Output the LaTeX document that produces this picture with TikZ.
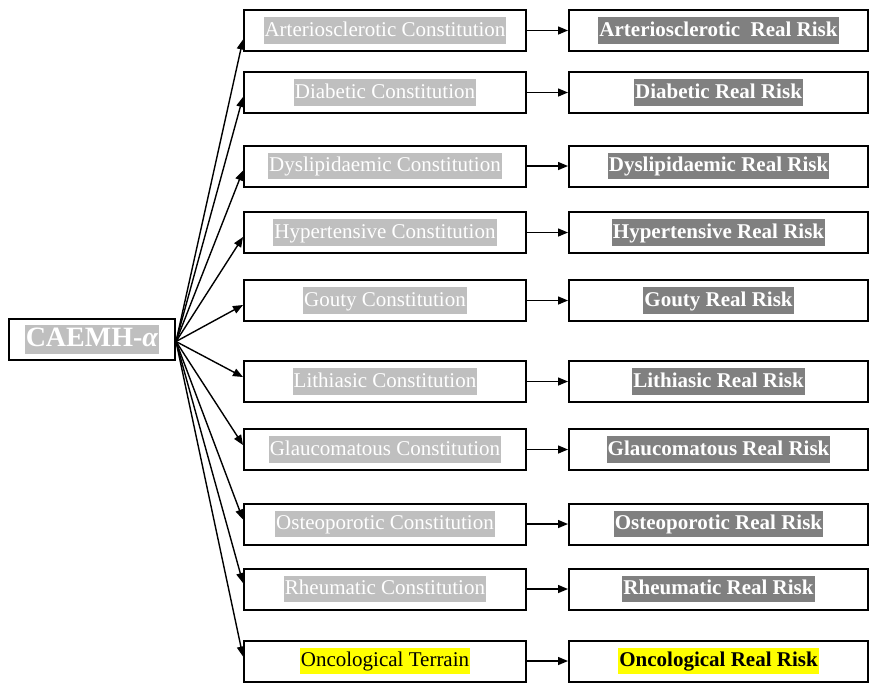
\documentclass[tikz,border=0pt]{standalone}
\usepackage{fontspec}
\setmainfont{Liberation Serif}
\usetikzlibrary{arrows.meta}
\definecolor{hlgray}{RGB}{191,191,191}
\definecolor{hldark}{RGB}{128,128,128}
\definecolor{hlyellow}{RGB}{255,255,0}
\newcommand{\hlbox}[2]{{\setlength{\fboxsep}{0.5pt}\colorbox{#1}{\rule[-0.3em]{0pt}{1.15em}#2}}}

\begin{document}
\begin{tikzpicture}[x=.5pt, y=-.5pt, node distance=166.75pt, every node/.style={font=\fontsize{10.5}{12.6}\selectfont}]
\tikzstyle{cons} = [rectangle, minimum width=141pt, minimum height=20.5pt, inner sep=0pt, text centered, draw=black, line width=1pt]
\tikzstyle{risk} = [cons, minimum width=149.5pt, font=\fontsize{10.5}{12.6}\selectfont\bfseries]
\tikzstyle{arr} = [-{Triangle[length=5pt, width=4pt]}, line width=.7pt]

\useasboundingbox (0,0) rectangle (870,682);

\node (caemh) [cons, minimum width=83pt, font=\fontsize{14}{16}\selectfont\bfseries] at (92,339.5) {{\setlength{\fboxsep}{0.5pt}\colorbox{hlgray}{\rule[-0.22em]{0pt}{0.95em}\color{white}CAEMH-\textit{α}}}};

\node (c1) [cons] at (385,30.5) {\hlbox{hlgray}{\color{white}Arteriosclerotic Constitution}};
\node (c2) [cons] at (385,92.5) {\hlbox{hlgray}{\color{white}Diabetic Constitution}};
\node (c3) [cons] at (385,166) {\hlbox{hlgray}{\color{white}Dyslipidaemic Constitution}};
\node (c4) [cons] at (385,232.5) {\hlbox{hlgray}{\color{white}Hypertensive Constitution}};
\node (c5) [cons] at (385,300.5) {\hlbox{hlgray}{\color{white}Gouty Constitution}};
\node (c6) [cons] at (385,381.5) {\hlbox{hlgray}{\color{white}Lithiasic Constitution}};
\node (c7) [cons] at (385,449.5) {\hlbox{hlgray}{\color{white}Glaucomatous Constitution}};
\node (c8) [cons] at (385,524) {\hlbox{hlgray}{\color{white}Osteoporotic Constitution}};
\node (c9) [cons] at (385,589) {\hlbox{hlgray}{\color{white}Rheumatic Constitution}};
\node (c10) [cons] at (385,661) {\hlbox{hlyellow}{Oncological Terrain}};

\node (r1) [risk, right of=c1] {\hlbox{hldark}{\color{white}Arteriosclerotic\ \ Real Risk}};
\node (r2) [risk, right of=c2] {\hlbox{hldark}{\color{white}Diabetic Real Risk}};
\node (r3) [risk, right of=c3] {\hlbox{hldark}{\color{white}Dyslipidaemic Real Risk}};
\node (r4) [risk, right of=c4] {\hlbox{hldark}{\color{white}Hypertensive Real Risk}};
\node (r5) [risk, right of=c5] {\hlbox{hldark}{\color{white}Gouty Real Risk}};
\node (r6) [risk, right of=c6] {\hlbox{hldark}{\color{white}Lithiasic Real Risk}};
\node (r7) [risk, right of=c7] {\hlbox{hldark}{\color{white}Glaucomatous Real Risk}};
\node (r8) [risk, right of=c8] {\hlbox{hldark}{\color{white}Osteoporotic Real Risk}};
\node (r9) [risk, right of=c9] {\hlbox{hldark}{\color{white}Rheumatic Real Risk}};
\node (r10) [risk, right of=c10] {\hlbox{hlyellow}{Oncological Real Risk}};

\coordinate (hub) at ([yshift=-1pt]caemh.east);

\draw[arr] (hub) -- ([yshift=-4.5pt]c1.west);
\draw[arr] (hub) -- ([yshift=-2.25pt]c2.west);
\draw[arr] (hub) -- ([yshift=-2.25pt]c3.west);
\draw[arr] (hub) -- ([yshift=-2.25pt]c4.west);
\draw[arr] (hub) -- ([yshift=-2.25pt]c5.west);
\draw[arr] (hub) -- ([yshift=2.25pt]c6.west);
\draw[arr] (hub) -- ([yshift=2.25pt]c7.west);
\draw[arr] (hub) -- ([yshift=2.25pt]c8.west);
\draw[arr] (hub) -- ([yshift=3pt]c9.west);
\draw[arr] (hub) -- ([yshift=2.25pt]c10.west);

\draw[arr] (c1) -- (r1);
\draw[arr] (c2) -- (r2);
\draw[arr] (c3) -- (r3);
\draw[arr] (c4) -- (r4);
\draw[arr] (c5) -- (r5);
\draw[arr] (c6) -- (r6);
\draw[arr] (c7) -- (r7);
\draw[arr] (c8) -- (r8);
\draw[arr] (c9) -- (r9);
\draw[arr] (c10) -- (r10);

\end{tikzpicture}
\end{document}
